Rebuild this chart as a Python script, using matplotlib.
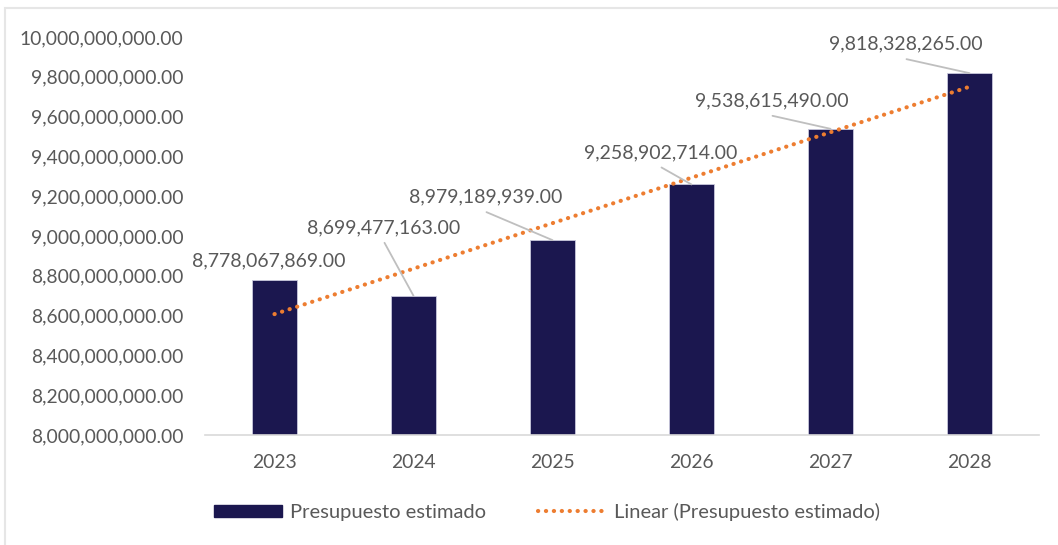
import numpy as np
import matplotlib
matplotlib.use("Agg")
import matplotlib.pyplot as plt
from matplotlib.lines import Line2D
from matplotlib.patches import Patch, Rectangle

years = ["2023", "2024", "2025", "2026", "2027", "2028"]
values = [8778067869.00, 8699477163.00, 8979189939.00, 9258902714.00, 9538615490.00, 9818328265.00]
yticks = [8.0e9, 8.2e9, 8.4e9, 8.6e9, 8.8e9, 9.0e9, 9.2e9, 9.4e9, 9.6e9, 9.8e9, 10.0e9]
series_name = "Presupuesto estimado"
trend_name = "Linear (Presupuesto estimado)"

# label offsets (in px) from bar top, with leader-line flag
label_offsets = [(-6, 19, False), (-30, 68, True), (-67, 43, True), (-31, 32, True), (-59, 28, True), (-64, 29, True)]

FONT = ["Lato", "DejaVu Sans"]
plt.rcParams['font.family'] = FONT
GRAY = "#595959"
BAR = "#1b174f"
ORANGE = "#ED7D31"
DOTS = (0, (0.05, 1.85))

fig = plt.figure(figsize=(10.58, 5.45), dpi=100)
W, H = 1058, 545
ax = fig.add_axes([205 / W, 1 - 435 / H, (1039 - 205) / W, (435 - 37) / H])

x = np.arange(len(years))
ax.bar(x, values, width=0.317, color=BAR, edgecolor="#c8c8dc", linewidth=0.6, zorder=2)

# linear trendline
coef = np.polyfit(x + 1, values, 1)
trend = np.polyval(coef, x + 1)
ax.plot(x, trend, linestyle=DOTS, dash_capstyle="round", color=ORANGE, linewidth=3.0, zorder=3)

ax.set_ylim(8.0e9, 10.0e9)
ax.set_xlim(-0.5, len(years) - 0.5)
ax.set_yticks(yticks)
ax.set_yticklabels([f"{v:,.2f}" for v in yticks])
ax.set_xticks(x)
ax.set_xticklabels(years)
ax.tick_params(axis="both", length=0, colors=GRAY, labelsize=13.9)
ax.tick_params(axis="y", pad=15.5)
ax.tick_params(axis="x", pad=14)
for s in ["top", "right", "left"]:
    ax.spines[s].set_visible(False)
ax.spines["bottom"].set_color("#d9d9d9")
ax.spines["bottom"].set_linewidth(1.2)

# data labels with leader lines (offsets in points: px * 0.72)
k = 0.72
for i, v in enumerate(values):
    dx, dy, leader = label_offsets[i]
    ax.annotate(f"{v:,.2f}", xy=(x[i], v), xytext=(dx * k, dy * k), textcoords="offset points",
                ha="center", va="center", color=GRAY, fontsize=14, zorder=5)
    if leader:
        start = ((dx + 1) * k, (dy - 15) * k)
        ax.annotate("", xy=(x[i], v), xytext=start, textcoords="offset points",
                    arrowprops=dict(arrowstyle="-", color="#bfbfbf", lw=1.3, shrinkA=0, shrinkB=0), zorder=4)

# legend
handles = [Patch(facecolor=BAR, edgecolor=BAR),
           Line2D([0], [0], linestyle=DOTS, dash_capstyle="round", color=ORANGE, linewidth=3.0)]
leg = fig.legend(handles, [series_name, trend_name], loc="center", bbox_to_anchor=(547 / W, 1 - 512 / H),
                 ncol=2, frameon=False, fontsize=14.5, labelcolor=GRAY, handlelength=3.4, handleheight=0.55,
                 columnspacing=2.55, handletextpad=0.4)

# outer chart border (partially visible)
fig.add_artist(Rectangle((5 / W, -0.1), 1.2, 1 - 8 / H + 0.1, transform=fig.transFigure,
                         fill=False, edgecolor="#e6e6e6", linewidth=1.5))

fig.savefig("out.png", dpi=100)
